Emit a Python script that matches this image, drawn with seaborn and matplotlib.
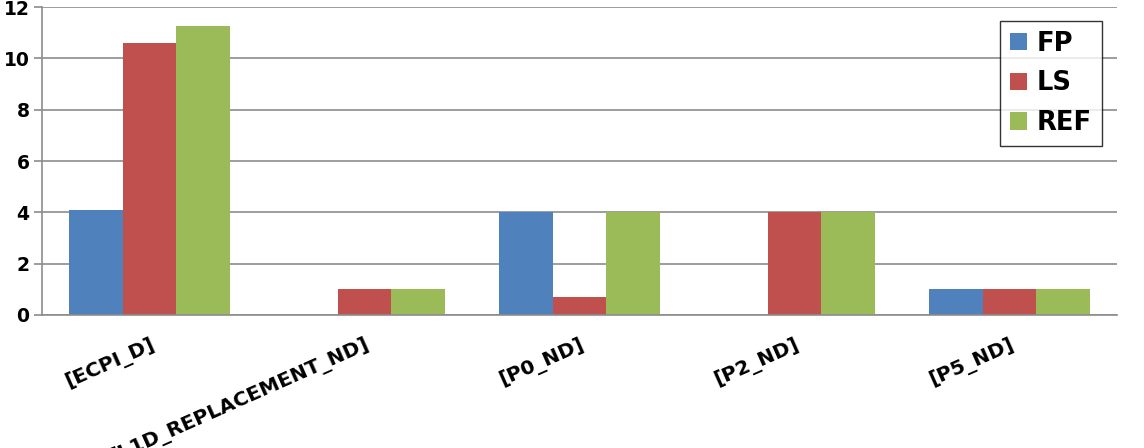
import numpy as np
import pandas as pd
import matplotlib
matplotlib.use("Agg")
import matplotlib.pyplot as plt
import seaborn as sns

categories = ["[ECPI_D]", "[L1D_REPLACEMENT_ND]", "[P0_ND]", "[P2_ND]", "[P5_ND]"]
series = ["FP", "LS", "REF"]
fp_values = [4.09, 0, 4.0, 0, 1.0]
ls_values = [10.58, 1.0, 0.69, 4.0, 1.0]
ref_values = [11.26, 1.0, 4.0, 4.0, 1.0]
y_ticks = [0, 2, 4, 6, 8, 10, 12]
colors = ["#4F81BD", "#C0504D", "#9BBB59"]

rows = []
for s, vals in zip(series, [fp_values, ls_values, ref_values]):
    for c, v in zip(categories, vals):
        rows.append({"category": c, "series": s, "value": v})
df = pd.DataFrame(rows)

sns.set_theme(style="white")
plt.rcParams['font.family'] = ['DejaVu Sans']
plt.rcParams['text.color'] = 'black'

fig = plt.figure(figsize=(11.44, 4.48), dpi=100)
ax = fig.add_axes([42/1144, 1 - 315/448, 1075/1144, 308/448])

sns.barplot(data=df, x="category", y="value", hue="series", order=categories,
            hue_order=series, palette=colors, width=0.75, saturation=1,
            edgecolor="none", linewidth=0, ax=ax, legend=True)

ax.set_ylim(0, 12)
ax.set_xlim(-0.5, 4.5)
ax.set_yticks(y_ticks)
ax.set_yticklabels([str(t) for t in y_ticks], fontsize=13.5, fontweight="bold",
                   color="black")
ax.yaxis.grid(True, color="#8C8C8C", linewidth=1.2)
ax.set_axisbelow(True)
ax.set_xlabel("")
ax.set_ylabel("")

ax.set_xticks(range(len(categories)))
ax.set_xticklabels(categories, fontsize=14.5, fontweight="bold", rotation=24,
                   ha="right", va="top", rotation_mode="anchor", color="black")
ax.tick_params(axis="x", length=0, pad=14)
ax.set_xticks([0.5, 1.5, 2.5, 3.5], minor=True)
ax.tick_params(axis="x", which="minor", length=6, color="#8C8C8C", width=1.2)
ax.tick_params(axis="y", length=6, color="#8C8C8C", width=1.2, pad=3, left=True)

for side in ["top", "right"]:
    ax.spines[side].set_visible(False)
for side in ["left", "bottom"]:
    ax.spines[side].set_color("#8C8C8C")
    ax.spines[side].set_linewidth(1.2)

leg = ax.legend(loc="upper right", bbox_to_anchor=(1102/1144, 1 - 21/448),
                bbox_transform=fig.transFigure, frameon=True, fancybox=False,
                prop={"weight": "bold", "size": 18.5}, handlelength=0.65,
                handleheight=0.65, handletextpad=0.4, borderpad=0.38,
                labelspacing=0.53, borderaxespad=0)
leg.get_frame().set_edgecolor("#000000")
leg.get_frame().set_linewidth(1.0)
for t in leg.get_texts():
    t.set_color("black")

fig.savefig("out.png", dpi=100)
